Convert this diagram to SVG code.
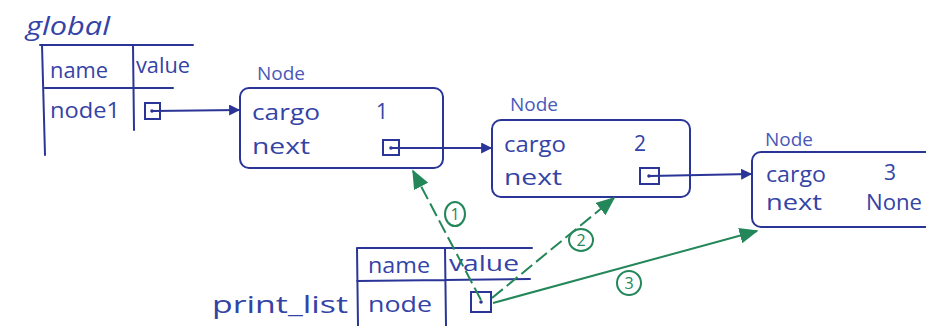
<svg xmlns="http://www.w3.org/2000/svg" width="926" height="326" viewBox="0 0 926 326">
<defs>
<marker id="ab" viewBox="0 0 10 10" refX="9" refY="5" markerWidth="12" markerHeight="11" orient="auto" markerUnits="userSpaceOnUse"><path d="M0,0 L10,5 L0,10 z" fill="#2a3597"/></marker>
<marker id="ag" viewBox="0 0 12 10" refX="11" refY="5" markerWidth="19" markerHeight="16" orient="auto" markerUnits="userSpaceOnUse"><path d="M0,0 L12,5 L0,10 z" fill="#23875a"/></marker>
</defs>
<style>
.ln{stroke:#2a3597;stroke-width:2;fill:none;stroke-linecap:round}
.box{stroke:#2a3597;stroke-width:2;fill:#fff}
.t{font-family:"Open Sans",sans-serif;font-size:21px;fill:#3443a6}
.tl{font-family:"Open Sans",sans-serif;font-size:19px;fill:#4a58b8}
.big{font-size:26px;font-style:italic}
.pl{font-size:24px}
.g{stroke:#23875a;stroke-width:2;fill:none}
.gt{font-family:"Open Sans",sans-serif;font-size:16px;fill:#23875a;text-anchor:middle}
.pt{fill:#2a3597}
</style>
<rect width="926" height="326" fill="#fff"/>

<g id="global">
<text class="t big" x="26" y="35" textLength="84" lengthAdjust="spacingAndGlyphs">global</text>
<path class="ln" d="M40,45 L193,45 M42,45 L45,155 M133,45 L134,130 M45,88 L173,88"/>
<text class="t" x="50" y="78" textLength="58" lengthAdjust="spacingAndGlyphs">name</text>
<text class="t" x="136" y="73" textLength="54" lengthAdjust="spacingAndGlyphs">value</text>
<text class="t" x="50" y="118" textLength="70" lengthAdjust="spacingAndGlyphs">node1</text>
<rect class="box" x="145" y="103" width="15" height="16"/>
<circle class="pt" cx="152" cy="111" r="1.8"/>
</g>

<g id="node1">
<text class="tl" x="257" y="80">Node</text>
<rect class="box" x="240" y="88" width="203" height="80" rx="9"/>
<text class="t" x="252" y="120" textLength="68" lengthAdjust="spacingAndGlyphs">cargo</text>
<text class="t" x="376" y="119">1</text>
<text class="t" x="252" y="154" textLength="58" lengthAdjust="spacingAndGlyphs">next</text>
<rect class="box" x="383" y="140" width="16" height="15"/>
<circle class="pt" cx="391" cy="148" r="1.8"/>
</g>

<g id="node2">
<text class="tl" x="510" y="111">Node</text>
<rect class="box" x="492" y="120" width="198" height="77" rx="9"/>
<text class="t" x="504" y="152" textLength="62" lengthAdjust="spacingAndGlyphs">cargo</text>
<text class="t" x="634" y="151">2</text>
<text class="t" x="504" y="185" textLength="58" lengthAdjust="spacingAndGlyphs">next</text>
<rect class="box" x="640" y="168" width="19" height="16"/>
<circle class="pt" cx="649" cy="176" r="1.8"/>
</g>

<g id="node3">
<text class="tl" x="765" y="146">Node</text>
<rect class="box" x="752" y="152" width="190" height="75" rx="9"/>
<text class="t" x="766" y="182" textLength="60" lengthAdjust="spacingAndGlyphs">cargo</text>
<text class="t" x="884" y="180">3</text>
<text class="t" x="766" y="210" textLength="56" lengthAdjust="spacingAndGlyphs">next</text>
<text class="t" x="866" y="210" textLength="56" lengthAdjust="spacingAndGlyphs">None</text>
</g>

<g id="print_list">
<text class="t pl" x="212" y="313" textLength="136" lengthAdjust="spacingAndGlyphs">print_list</text>
<path class="ln" d="M357,248 L532,248 M357,248 L358,326 M445,248 L446,326 M357,281 L530,279"/>
<text class="t" x="368" y="273" textLength="62" lengthAdjust="spacingAndGlyphs">name</text>
<text class="t" x="449" y="271" textLength="70" lengthAdjust="spacingAndGlyphs">value</text>
<text class="t" x="368" y="312" textLength="64" lengthAdjust="spacingAndGlyphs">node</text>
<rect class="box" x="471" y="292" width="20" height="20"/>
<circle class="pt" cx="481" cy="302" r="1.8"/>
</g>

<g id="connectors">
<line class="ln" x1="153" y1="111" x2="239" y2="110" marker-end="url(#ab)"/>
<line class="ln" x1="392" y1="148" x2="491" y2="148" marker-end="url(#ab)"/>
<line class="ln" x1="650" y1="176" x2="751" y2="174" marker-end="url(#ab)"/>
<line class="g" x1="481" y1="300" x2="413" y2="171" stroke-dasharray="14,5" marker-end="url(#ag)"/>
<line class="g" x1="492" y1="298" x2="614" y2="198" stroke-dasharray="14,5" marker-end="url(#ag)"/>
<line class="g" x1="493" y1="303" x2="757" y2="231" marker-end="url(#ag)"/>
<ellipse class="g" cx="455" cy="214" rx="10" ry="12"/>
<text class="gt" x="455" y="220">1</text>
<ellipse class="g" cx="581" cy="240" rx="12" ry="11"/>
<text class="gt" x="581" y="246">2</text>
<ellipse class="g" cx="629" cy="283" rx="12" ry="12"/>
<text class="gt" x="629" y="289">3</text>
</g>
</svg>
